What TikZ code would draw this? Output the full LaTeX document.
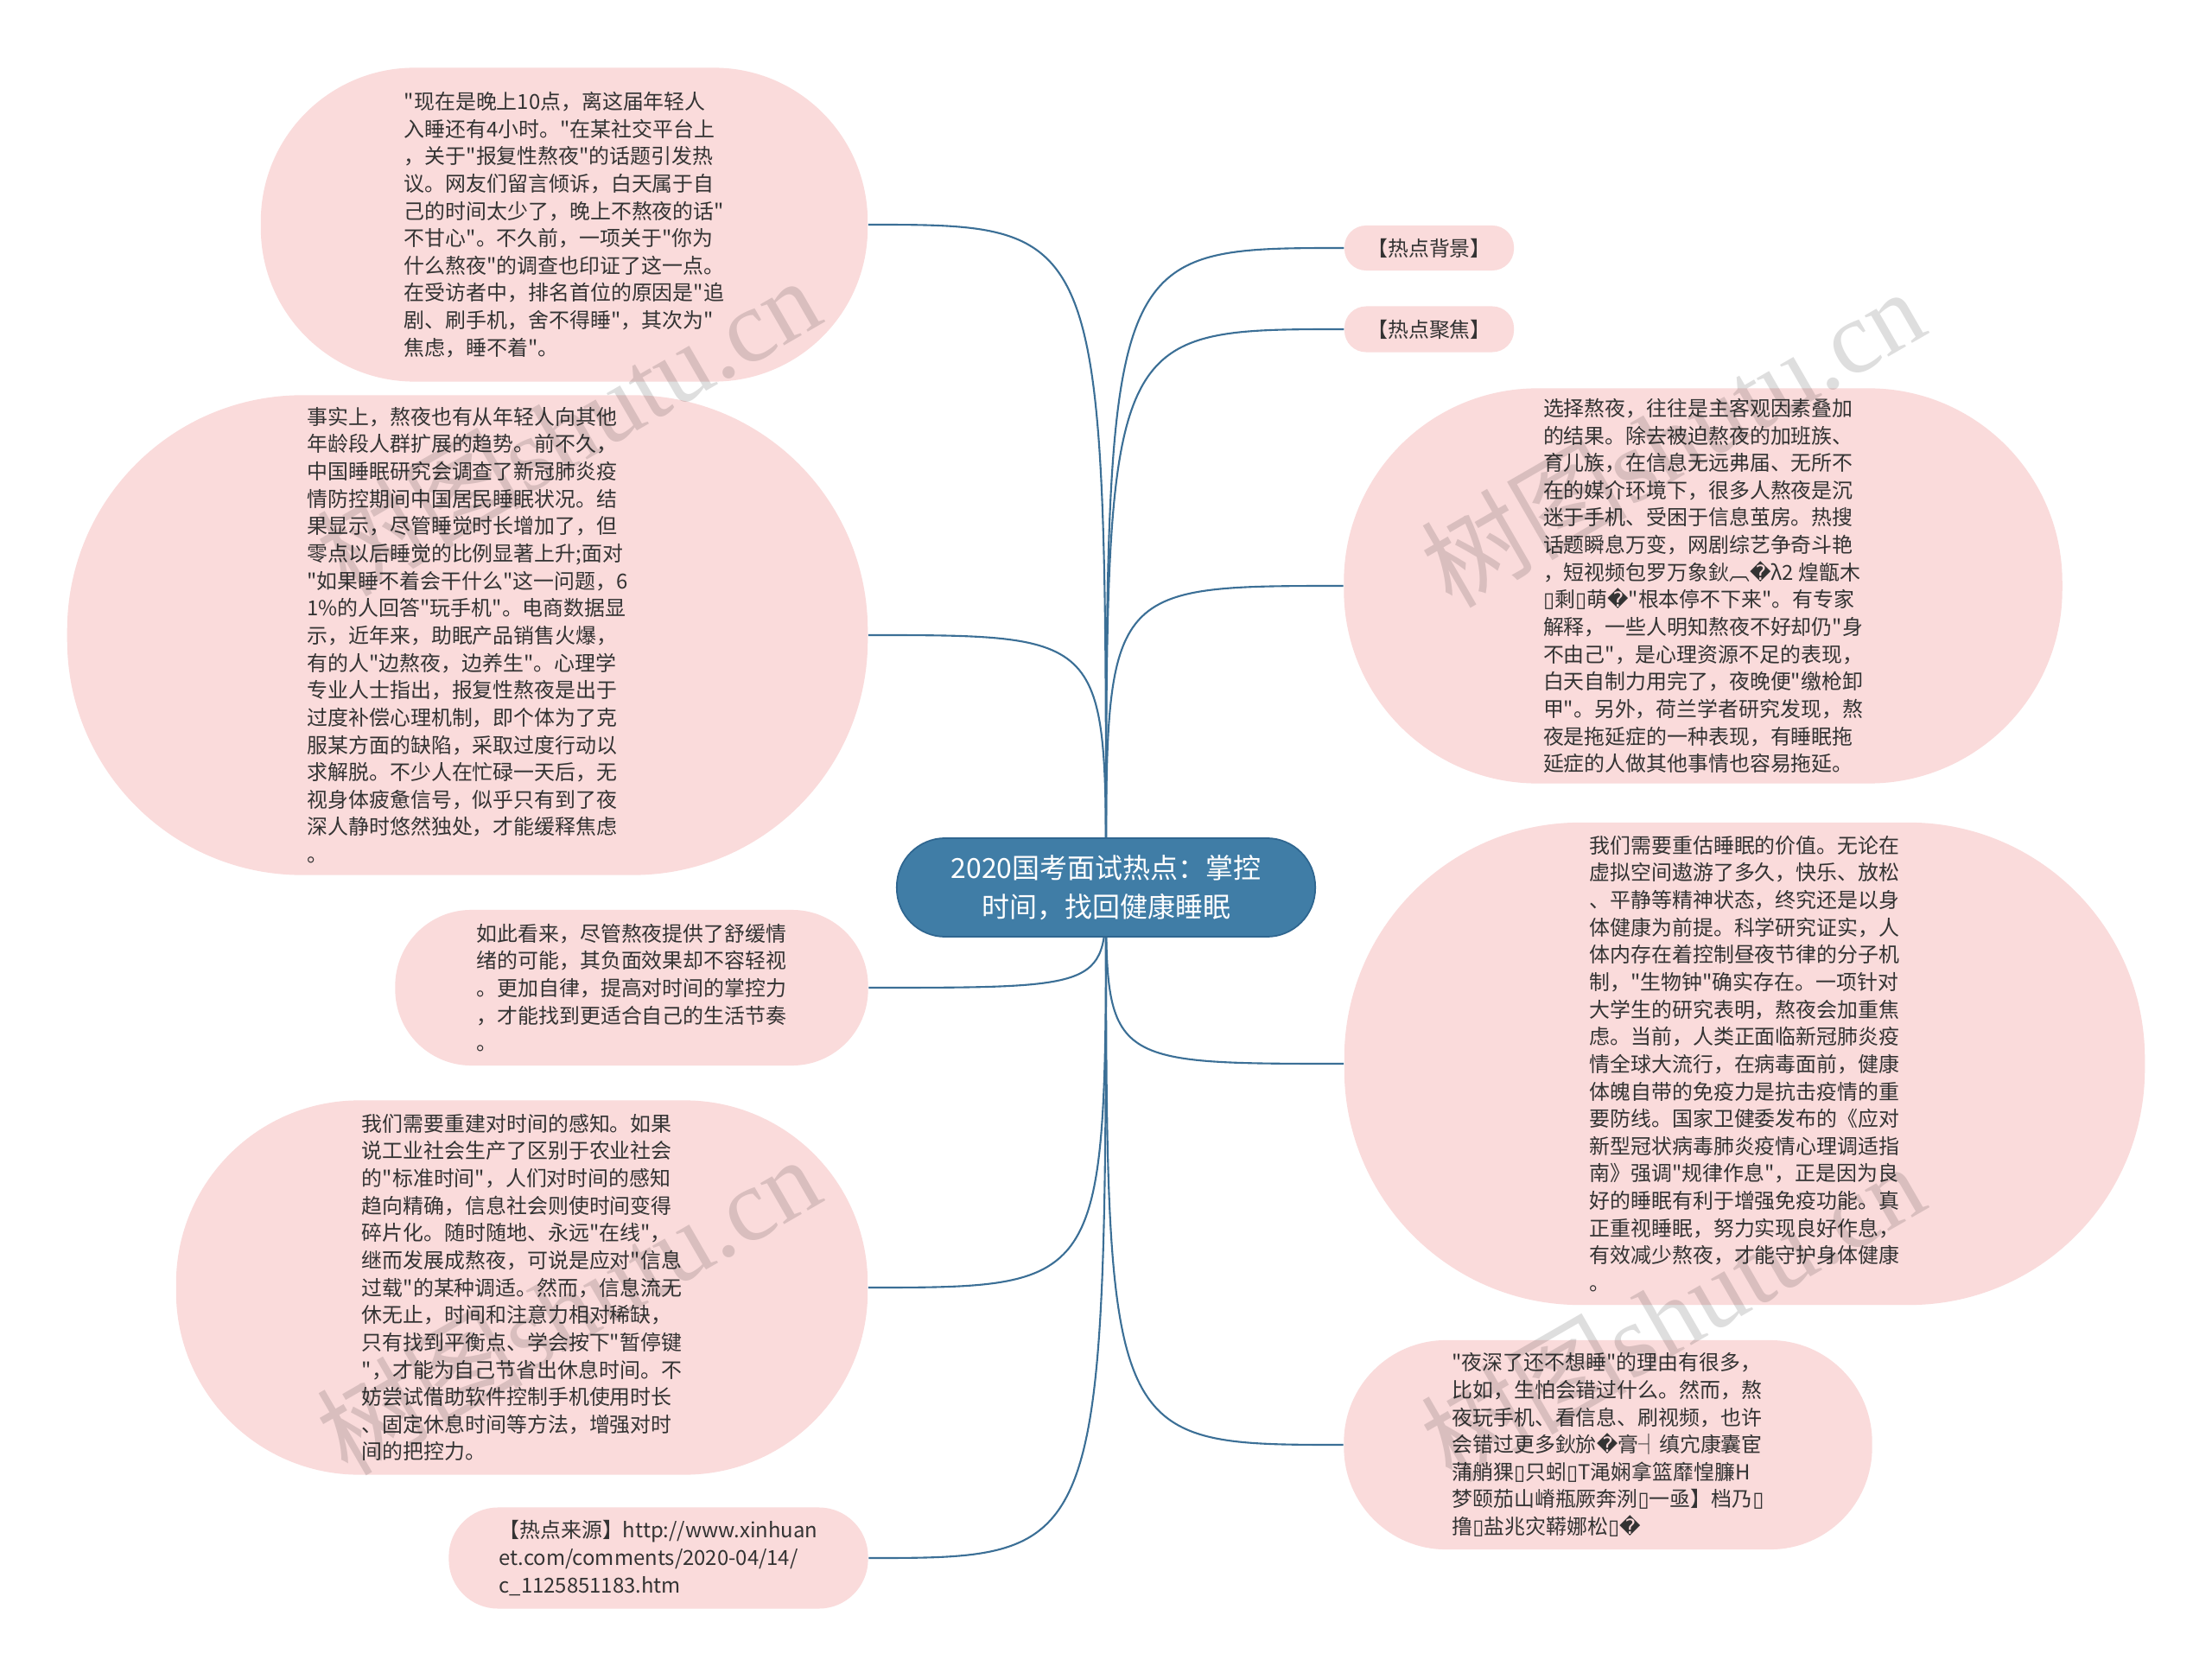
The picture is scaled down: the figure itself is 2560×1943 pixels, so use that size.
\documentclass[tikz,border=0pt]{standalone}
\usepackage{fontspec}
\setmainfont{Noto Sans CJK SC}[Ligatures=TeXOff]
\newfontfamily\dejavu{DejaVu Sans}
\newfontfamily\wmfont{Liberation Serif}
\usepackage{xcolor}
\usetikzlibrary{backgrounds}

\definecolor{bubblepink}{HTML}{FADBDB}
\definecolor{topicblue}{HTML}{407DA6}
\definecolor{topicline}{HTML}{2F6690}
\definecolor{linkblue}{HTML}{3B6F96}
\definecolor{bodytext}{HTML}{333333}

\newcommand{\repl}{{\dejavu\symbol{"FFFD}}}
\newcommand{\tofu}{{\dejavu\symbol{"25AF}}}

\tikzset{
  bubble/.style={fill=bubblepink, text=bodytext, align=left, inner sep=0pt,
    font=\fontsize{6.8pt}{9pt}\selectfont},
  topic/.style={fill=topicblue, draw=topicline, line width=0.5pt, text=white,
    align=center, font=\fontsize{9.1pt}{12.8pt}\selectfont},
  link/.style={draw=linkblue, line width=0.6pt},
  wmark/.style={rotate=30, text=black, text opacity=0.13,
    font=\fontsize{34pt}{40pt}\selectfont}
}

\begin{document}
\begin{tikzpicture}[x=0.01cm, y=-0.01cm]
        \useasboundingbox (0,0) rectangle (2560,1943);

        \node[topic, minimum width=4.84cm, minimum height=1.14cm, rounded corners=0.56cm] (root) at (1280,1027) {2020国考面试热点：掌控\\时间，找回健康睡眠};

        \node[bubble, minimum width=7.02cm, minimum height=3.63cm, rounded corners=1.78cm] (l1) at (653,260) {"现在是晚上10点，离这届年轻人\\入睡还有4小时。"在某社交平台上\\，关于"报复性熬夜"的话题引发热\\议。网友们留言倾诉，白天属于自\\己的时间太少了，晚上不熬夜的话"\\不甘心"。不久前，一项关于"你为\\什么熬夜"的调查也印证了这一点。\\在受访者中，排名首位的原因是"追\\剧、刷手机，舍不得睡"，其次为"\\焦虑，睡不着"。};
        \node[bubble, minimum width=9.26cm, minimum height=5.55cm, rounded corners=2.72cm] (l2) at (541,735) {事实上，熬夜也有从年轻人向其他\\年龄段人群扩展的趋势。前不久，\\中国睡眠研究会调查了新冠肺炎疫\\情防控期间中国居民睡眠状况。结\\果显示，尽管睡觉时长增加了，但\\零点以后睡觉的比例显著上升;面对\\"如果睡不着会干什么"这一问题，6\\1\%的人回答"玩手机"。电商数据显\\示，近年来，助眠产品销售火爆，\\有的人"边熬夜，边养生"。心理学\\专业人士指出，报复性熬夜是出于\\过度补偿心理机制，即个体为了克\\服某方面的缺陷，采取过度行动以\\求解脱。不少人在忙碌一天后，无\\视身体疲惫信号，似乎只有到了夜\\深人静时悠然独处，才能缓释焦虑\\。};
        \node[bubble, minimum width=5.47cm, minimum height=1.80cm, rounded corners=0.88cm] (l3) at (731,1143) {如此看来，尽管熬夜提供了舒缓情\\绪的可能，其负面效果却不容轻视\\。更加自律，提高对时间的掌控力\\，才能找到更适合自己的生活节奏\\。};
        \node[bubble, minimum width=8.00cm, minimum height=4.33cm, rounded corners=2.12cm] (l4) at (604,1490) {我们需要重建对时间的感知。如果\\说工业社会生产了区别于农业社会\\的"标准时间"，人们对时间的感知\\趋向精确，信息社会则使时间变得\\碎片化。随时随地、永远"在线"，\\继而发展成熬夜，可说是应对"信息\\过载"的某种调适。然而，信息流无\\休无止，时间和注意力相对稀缺，\\只有找到平衡点、学会按下"暂停键\\"，才能为自己节省出休息时间。不\\妨尝试借助软件控制手机使用时长\\、固定休息时间等方法，增强对时\\间的把控力。};
        \node[bubble, minimum width=4.85cm, minimum height=1.17cm, rounded corners=0.57cm] (l5) at (762,1803) {【热点来源】http://www.xinhuan\\et.com/comments/2020-04/14/\\c\_1125851183.htm};

        \node[bubble, minimum width=1.96cm, minimum height=0.52cm, rounded corners=0.25cm] (r1) at (1654,287) {【热点背景】};
        \node[bubble, minimum width=1.96cm, minimum height=0.53cm, rounded corners=0.25cm] (r2) at (1654,381) {【热点聚焦】};
        \node[bubble, minimum width=8.31cm, minimum height=4.57cm, rounded corners=2.24cm] (r3) at (1971,678) {选择熬夜，往往是主客观因素叠加\\的结果。除去被迫熬夜的加班族、\\育儿族，在信息无远弗届、无所不\\在的媒介环境下，很多人熬夜是沉\\迷于手机、受困于信息茧房。热搜\\话题瞬息万变，网剧综艺争奇斗艳\\，短视频包罗万象鈥︹\repl λ2 煌甑木\\\tofu 剩\tofu 萌\repl"根本停不下来"。有专家\\解释，一些人明知熬夜不好却仍"身\\不由己"，是心理资源不足的表现，\\白天自制力用完了，夜晚便"缴枪卸\\甲"。另外，荷兰学者研究发现，熬\\夜是拖延症的一种表现，有睡眠拖\\延症的人做其他事情也容易拖延。};
        \node[bubble, minimum width=9.26cm, minimum height=5.58cm, rounded corners=2.73cm] (r4) at (2019,1231) {我们需要重估睡眠的价值。无论在\\虚拟空间遨游了多久，快乐、放松\\、平静等精神状态，终究还是以身\\体健康为前提。科学研究证实，人\\体内存在着控制昼夜节律的分子机\\制，"生物钟"确实存在。一项针对\\大学生的研究表明，熬夜会加重焦\\虑。当前，人类正面临新冠肺炎疫\\情全球大流行，在病毒面前，健康\\体魄自带的免疫力是抗击疫情的重\\要防线。国家卫健委发布的《应对\\新型冠状病毒肺炎疫情心理调适指\\南》强调"规律作息"，正是因为良\\好的睡眠有利于增强免疫功能。真\\正重视睡眠，努力实现良好作息，\\有效减少熬夜，才能守护身体健康\\。};
        \node[bubble, minimum width=6.11cm, minimum height=2.42cm, rounded corners=1.18cm] (r5) at (1861,1672) {"夜深了还不想睡"的理由有很多，\\比如，生怕会错过什么。然而，熬\\夜玩手机、看信息、刷视频，也许\\会错过更多鈥旀\repl 膏┤缜宂康囊宦\\蒲艄猓\tofu 只蚓\tofu T渑娴拿篮靡惶臁H\\梦颐茄山嵴瓶厥奔洌\tofu 一亟】档乃\tofu\\撸\tofu 盐兆灾鞯娜松\tofu\repl};

        \begin{scope}[on background layer]
        \fill[white] (0,0) rectangle (2560,1943);
        \draw[link] (root.center) .. controls (root.center |- l1.east) .. (l1.east);
        \draw[link] (root.center) .. controls (root.center |- l2.east) .. (l2.east);
        \draw[link] (root.center) .. controls (root.center |- l3.east) .. (l3.east);
        \draw[link] (root.center) .. controls (root.center |- l4.east) .. (l4.east);
        \draw[link] (root.center) .. controls (root.center |- l5.east) .. (l5.east);
        \draw[link] (root.center) .. controls (root.center |- r1.west) .. (r1.west);
        \draw[link] (root.center) .. controls (root.center |- r2.west) .. (r2.west);
        \draw[link] (root.center) .. controls (root.center |- r3.west) .. (r3.west);
        \draw[link] (root.center) .. controls (root.center |- r4.west) .. (r4.west);
        \draw[link] (root.center) .. controls (root.center |- r5.west) .. (r5.west);
        \end{scope}

        \node[wmark] (wm1) at (657,493) {树图{\wmfont shutu.cn}};
        \node[wmark] (wm2) at (1935,506) {树图{\wmfont shutu.cn}};
        \node[wmark] (wm3) at (657,1510) {树图{\wmfont shutu.cn}};
        \node[wmark] (wm4) at (1935,1518) {树图{\wmfont shutu.cn}};
\end{tikzpicture}
\end{document}
